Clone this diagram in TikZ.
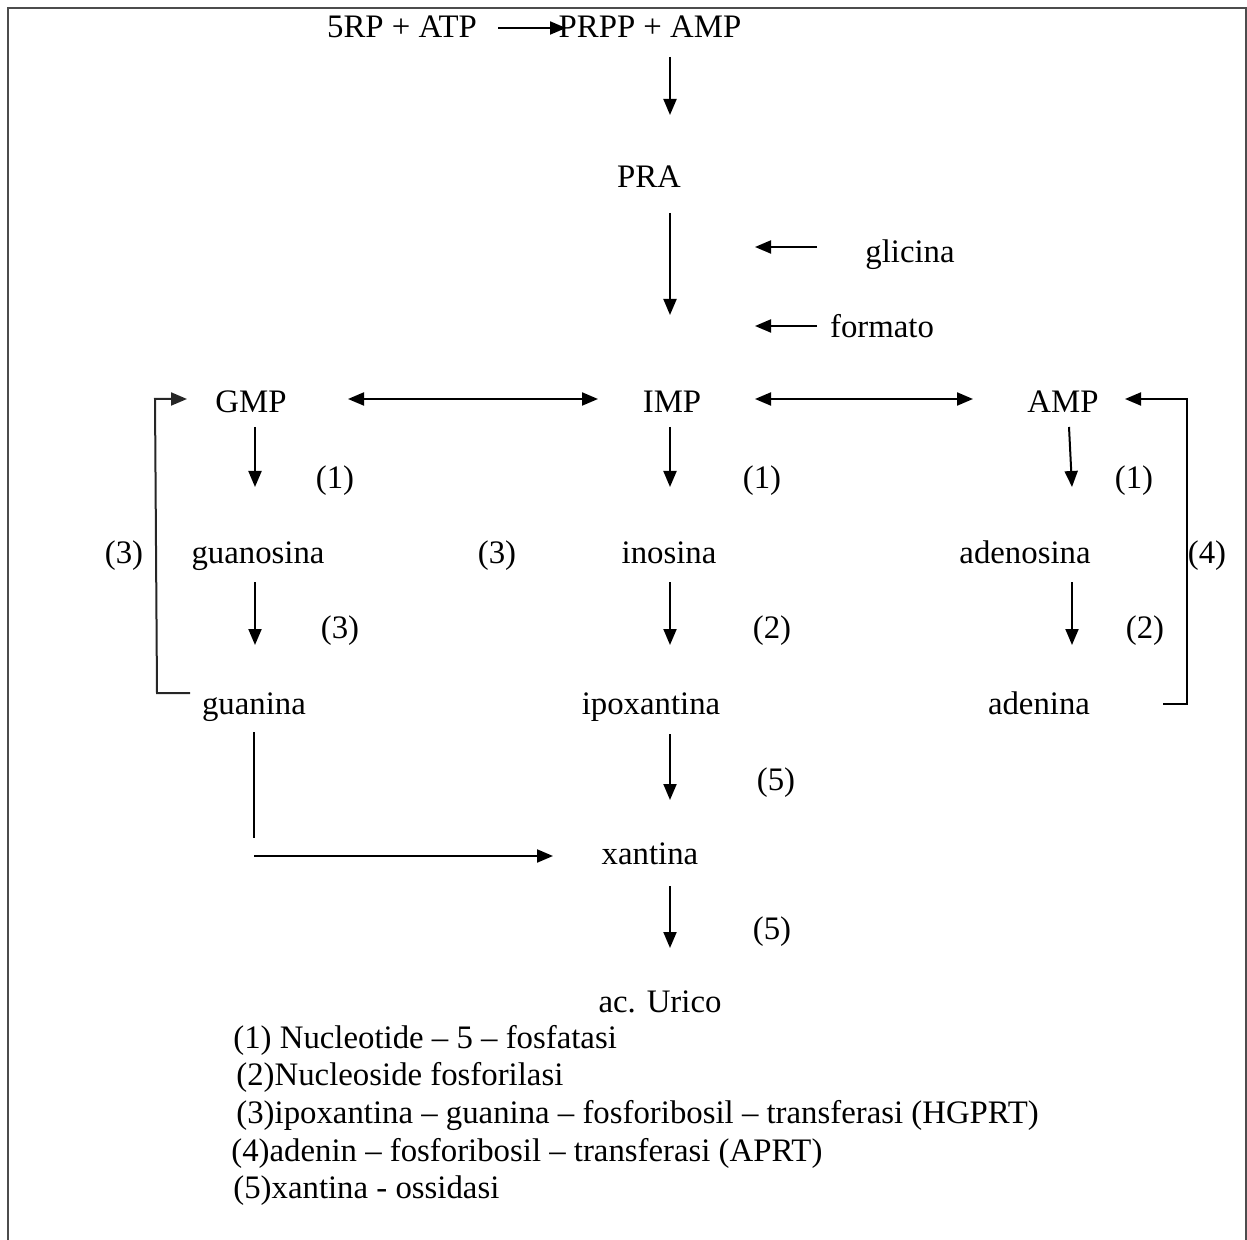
\documentclass[tikz,border=0pt]{standalone}
\usepackage{fontspec}
\setmainfont{Liberation Serif}
\usetikzlibrary{arrows.meta}

\begin{document}
\begin{tikzpicture}[x=0.5pt,y=-0.5pt,
  lbl/.style={anchor=base, inner sep=0pt, font=\fontsize{16.4}{19}\selectfont},
  legend/.style={anchor=base west, inner sep=0pt, font=\fontsize{16.4}{19}\selectfont},
  tip/.style={},
  flow/.style={line width=1pt, -{Triangle[length=8pt,width=6.5pt]}},
  both/.style={line width=1pt, {Triangle[length=8pt,width=6.5pt]}-{Triangle[length=8pt,width=6.5pt]}},
  plain/.style={line width=1pt},
  frame/.style={line width=1.4pt, draw=black!70}]

\useasboundingbox (0,0) rectangle (1247,1240);

% open frame: left, top and right sides
\draw[frame] (8,1240) -- (8,8) -- (1246,8) -- (1246,1240);

% metabolites
\node[lbl] (rp)       at (402,38)  {5RP + ATP};
\node[lbl] (prpp)     at (650,38)  {PRPP + AMP};
\node[lbl] (pra)      at (649,188) {PRA};
\node[lbl] (glicina)  at (910,263) {glicina};
\node[lbl] (formato)  at (882,338) {formato};
\node[lbl] (gmp)      at (251,413) {GMP};
\node[lbl] (imp)      at (672,413) {IMP};
\node[lbl] (amp)      at (1063,413) {AMP};
\node[lbl] (guanosina) at (258,564) {guanosina};
\node[lbl] (inosina)  at (669,564) {inosina};
\node[lbl] (adenosina) at (1025,564) {adenosina};
\node[lbl] (guanina)  at (254,714) {guanina};
\node[lbl] (ipox)     at (651,714) {ipoxantina};
\node[lbl] (adenina)  at (1039,714) {adenina};
\node[lbl] (xantina)  at (650,864) {xantina};
\node[lbl] (urico)    at (660,1012) {ac. Urico};

% enzyme numbers
\node[lbl] (e1a) at (335,489)  {(1)};
\node[lbl] (e1b) at (762,489)  {(1)};
\node[lbl] (e1c) at (1134,489) {(1)};
\node[lbl] (e3l) at (124,564)  {(3)};
\node[lbl] (e3m) at (497,564)  {(3)};
\node[lbl] (e4)  at (1207,564) {(4)};
\node[lbl] (e3g) at (340,639)  {(3)};
\node[lbl] (e2i) at (772,639)  {(2)};
\node[lbl] (e2a) at (1145,639) {(2)};
\node[lbl] (e5a) at (776,790)  {(5)};
\node[lbl] (e5b) at (772,939)  {(5)};

% synthesis
\draw[flow] ([shift={(96,-10)}]rp.base) -- ([shift={(-84,-10)}]prpp.base);
\draw[flow] ([shift={(20,19)}]prpp.base) -- ([shift={(21,-73)}]pra.base);
\draw[flow] ([shift={(21,25)}]pra.base) -- ([shift={(-2,-98)}]imp.base);
\draw[flow] ([shift={(-93,-16)}]glicina.base) -- ++(-62,0);
\draw[flow] ([shift={(-65,-12)}]formato.base) -- ++(-62,0);

% interconversions
\draw[both] ([shift={(97,-14)}]gmp.base) -- ([shift={(-74,-14)}]imp.base);
\draw[both] ([shift={(83,-14)}]imp.base) -- ([shift={(-90,-14)}]amp.base);

% degradation
\draw[flow] ([shift={(4,14)}]gmp.base) -- ([shift={(-3,-77)}]guanosina.base);
\draw[flow] ([shift={(-2,14)}]imp.base) -- ([shift={(1,-77)}]inosina.base);
\draw[flow] ([shift={(6,14)}]amp.base) -- ([shift={(47,-77)}]adenosina.base);
\draw[flow] ([shift={(-3,18)}]guanosina.base) -- ([shift={(1,-69)}]guanina.base);
\draw[flow] ([shift={(1,18)}]inosina.base) -- ([shift={(19,-69)}]ipox.base);
\draw[flow] ([shift={(47,18)}]adenosina.base) -- ([shift={(33,-69)}]adenina.base);
\draw[flow] ([shift={(19,20)}]ipox.base) -- ([shift={(20,-64)}]xantina.base);
\draw[flow] ([shift={(20,22)}]xantina.base) -- ([shift={(10,-64)}]urico.base);

% guanine to xanthine
\draw[plain] ([shift={(0,18)}]guanina.base) -- ++(0,106);
\draw[flow] ([shift={(0,142)}]guanina.base) -- ([shift={(-97,-8)}]xantina.base);

% salvage loops
\draw[flow, draw=black!85] ([shift={(-64,-21)}]guanina.base) -- ++(-33,0) -- ++(-2,-294)
  -- ([shift={(-64,-14)}]gmp.base);
\draw[flow] ([shift={(124,-10)}]adenina.base) -- ++(24,0) -- ++(0,-305)
  -- ([shift={(62,-14)}]amp.base);

% enzyme legend
\node[legend] (l1) at (233,1048) {(1) Nucleotide – 5 – fosfatasi};
\node[legend] (l2) at (236,1085) {(2)Nucleoside fosforilasi};
\node[legend] (l3) at (236,1123) {(3)ipoxantina – guanina – fosforibosil – transferasi (HGPRT)};
\node[legend] (l4) at (231,1161) {(4)adenin – fosforibosil – transferasi (APRT)};
\node[legend] (l5) at (233,1198) {(5)xantina - ossidasi};

\end{tikzpicture}
\end{document}
